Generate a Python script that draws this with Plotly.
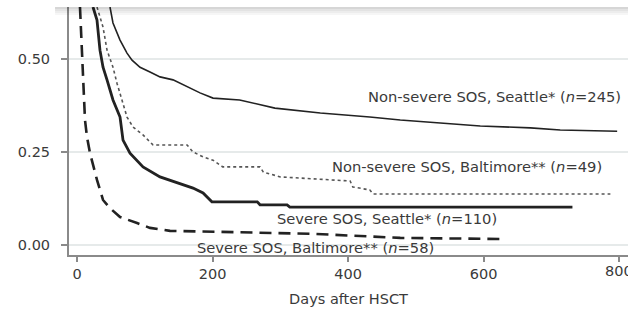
import plotly.graph_objects as go

# Kaplan-Meier style survival estimates (days after HSCT, survival probability)
ns_sea_days = [48.7, 53.1, 63.5, 73.8, 81.2, 93.0, 107.7, 122.5, 141.7, 162.4, 181.5, 200.7,
               240, 292, 359, 432, 477, 536, 595, 669, 713, 797]
ns_sea_surv = [0.640, 0.597, 0.551, 0.516, 0.497, 0.478, 0.465, 0.452, 0.444, 0.425, 0.409, 0.395,
               0.39, 0.368, 0.355, 0.344, 0.336, 0.328, 0.32, 0.315, 0.309, 0.306]

ns_bal_days = [29.5, 38.4, 44.3, 53.1, 59, 66.4, 73.8, 82.7, 97.4, 112.2, 162.4, 171.2, 186,
               200.7, 215, 270, 275, 300, 403, 407, 432, 437, 787]
ns_bal_surv = [0.640, 0.586, 0.524, 0.478, 0.435, 0.39, 0.344, 0.317, 0.296, 0.269, 0.269, 0.25, 0.237,
               0.228, 0.21, 0.21, 0.196, 0.183, 0.172, 0.156, 0.148, 0.137, 0.137]

sv_sea_days = [23.6, 29.5, 33.9, 38.4, 44.3, 53.1, 63.5, 67.9, 78.2, 97.4, 122.5, 147.6, 171.2,
               186, 196.3, 199, 266, 270, 310, 314, 731]
sv_sea_surv = [0.640, 0.605, 0.524, 0.478, 0.444, 0.39, 0.344, 0.282, 0.247, 0.21, 0.183, 0.167, 0.153,
               0.14, 0.121, 0.116, 0.116, 0.108, 0.108, 0.102, 0.102]

sv_bal_days = [4.4, 11.8, 14.8, 19.2, 29.5, 38.4, 48.7, 63.5, 88.6, 107.7, 137.3, 211, 348, 477, 629]
sv_bal_surv = [0.640, 0.336, 0.29, 0.247, 0.175, 0.121, 0.099, 0.075, 0.059, 0.046, 0.038, 0.035,
               0.03, 0.019, 0.016]

labels = [
    "Non-severe SOS, Seattle* (<i>n</i>=245)",
    "Non-severe SOS, Baltimore** (<i>n</i>=49)",
    "Severe SOS, Seattle* (<i>n</i>=110)",
    "Severe SOS, Baltimore** (<i>n</i>=58)",
]
label_x = [427, 373, 292, 174]
label_y = [0.398, 0.21, 0.07, -0.006]

x_ticks = [0, 200, 400, 600, 800]
y_ticks = [0.0, 0.25, 0.50]
y_ticktext = ["0.00", "0.25", "0.50"]

FONT = "DejaVu Sans"
INK = "#222222"
TEXT = "#3a3a3a"
AXIS = "#8a8a8a"

fig = go.Figure()
fig.add_trace(go.Scatter(x=ns_sea_days, y=ns_sea_surv, mode="lines",
                         line=dict(color=INK, width=1.6)))
fig.add_trace(go.Scatter(x=ns_bal_days, y=ns_bal_surv, mode="lines",
                         line=dict(color="#555555", width=1.6, dash="dot")))
fig.add_trace(go.Scatter(x=sv_sea_days, y=sv_sea_surv, mode="lines",
                         line=dict(color=INK, width=2.8)))
fig.add_trace(go.Scatter(x=sv_bal_days, y=sv_bal_surv, mode="lines",
                         line=dict(color=INK, width=2.6, dash="12px,7px")))

for txt, lx, ly in zip(labels, label_x, label_y):
    fig.add_annotation(x=lx, y=ly, text=txt, showarrow=False, xanchor="left",
                       yanchor="middle", font=dict(family=FONT, size=14.7, color=TEXT))

# the last x tick label runs off the right edge, so it is placed as free text
fig.add_annotation(x=x_ticks[-1], y=0, xref="x", yref="paper", text=str(x_ticks[-1]),
                   showarrow=False, xanchor="center", yanchor="top", yshift=-6,
                   font=dict(family=FONT, size=14.5, color=TEXT))

# soft shadow band along the top edge
band = [0.16, 0.11, 0.07, 0.035]
for i, a in enumerate(band):
    fig.add_shape(type="rect", xref="paper", yref="paper",
                  x0=-0.025, x1=1.0, y0=1 - (i + 1) * 2 / 248, y1=1 - i * 2 / 248,
                  line=dict(width=0), fillcolor=f"rgba(0,0,0,{a})", layer="above")

fig.update_layout(
    width=628, height=320,
    margin=dict(l=69, r=0, t=7, b=65),
    paper_bgcolor="white", plot_bgcolor="white",
    showlegend=False,
    font=dict(family=FONT, color=TEXT, size=14.5),
    xaxis=dict(range=[-11.8, 813], tickvals=x_ticks[:-1] + [x_ticks[-1]],
               ticktext=[str(v) for v in x_ticks[:-1]] + [""],
               showgrid=False, zeroline=False,
               showline=True, linecolor=AXIS, linewidth=2,
               ticks="outside", ticklen=5, tickwidth=1.5, tickcolor=AXIS,
               tickfont=dict(family=FONT, size=14.5, color=TEXT),
               title=dict(text="Days after HSCT", font=dict(family=FONT, size=14.5, color=TEXT),
                          standoff=12)),
    yaxis=dict(range=[-0.027, 0.640], tickvals=y_ticks, ticktext=y_ticktext,
               showgrid=True, gridcolor="#e6eaea", gridwidth=1.5, zeroline=False,
               showline=True, linecolor=AXIS, linewidth=2,
               ticks="outside", ticklen=6, tickwidth=1.5, tickcolor=AXIS,
               ticklabelstandoff=8,
               tickfont=dict(family=FONT, size=14.5, color=TEXT)),
)

fig.write_html("out.html")
